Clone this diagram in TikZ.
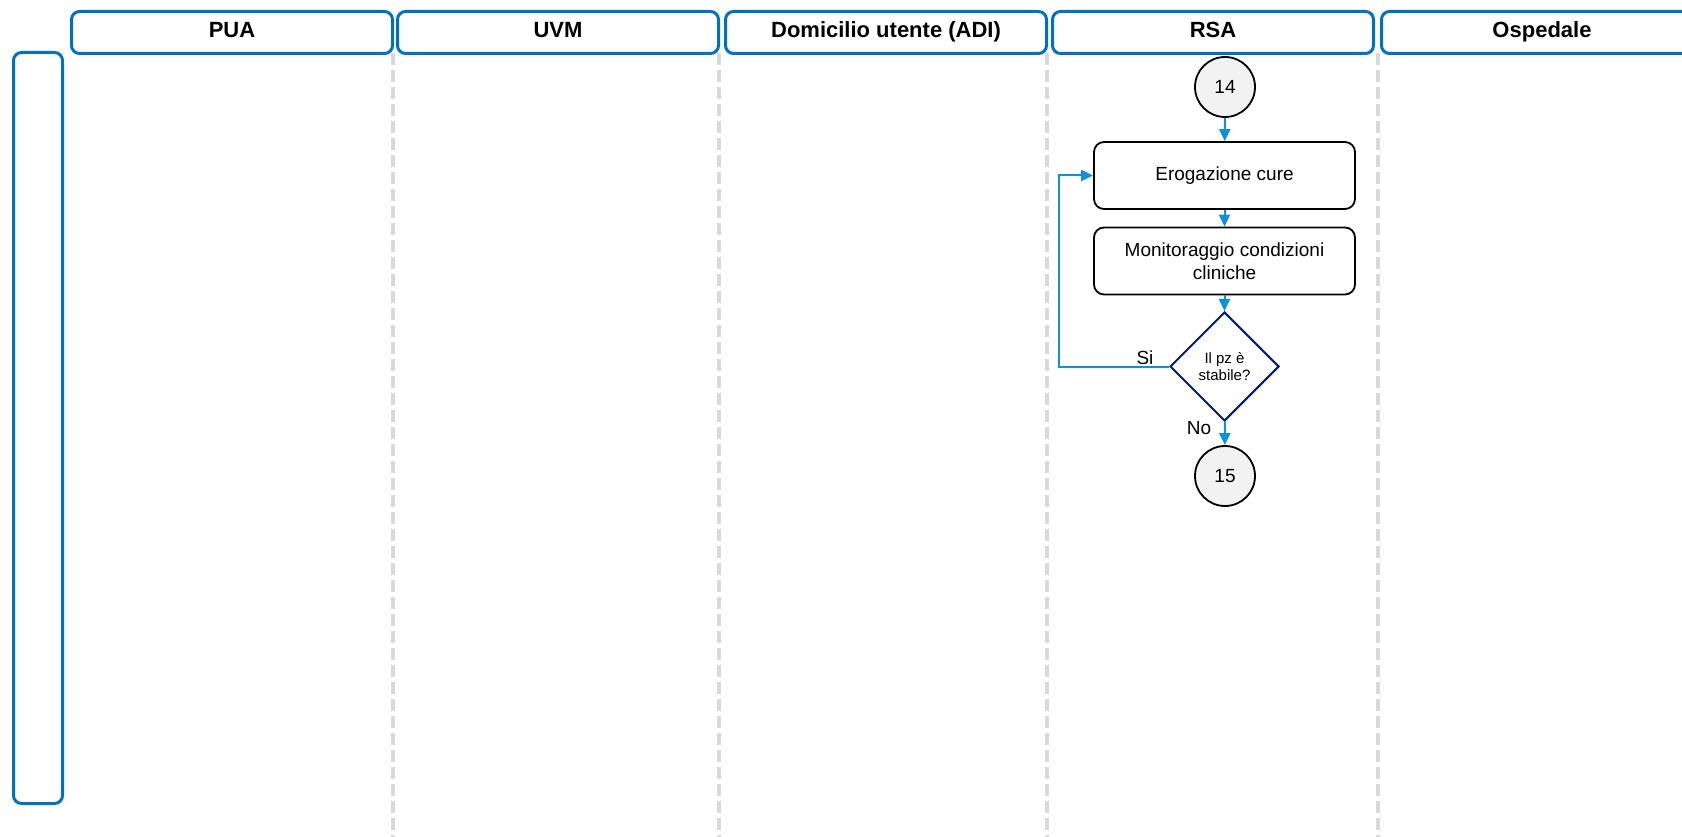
\documentclass[tikz,border=0pt]{standalone}
\usepackage{fontspec}
\setmainfont{Liberation Sans}
\usetikzlibrary{arrows.meta,shapes.geometric}
\definecolor{laneblue}{RGB}{0,112,192}
\definecolor{flowblue}{RGB}{14,144,218}
\definecolor{navy}{RGB}{0,32,96}
\definecolor{sepgray}{RGB}{217,217,217}
\definecolor{bubble}{RGB}{242,242,242}
\begin{document}
\begin{tikzpicture}[x=1pt,y=-1pt,
  lanehead/.style={draw=laneblue, line width=3pt, rounded corners=8pt,
    minimum height=42pt, minimum width=321pt, inner sep=0pt, anchor=north west,
    text height=16pt, text depth=6pt, font=\fontsize{22}{26}\selectfont\bfseries},
  lanesep/.style={draw=sepgray, line width=3.5pt, dash pattern=on 12pt off 5pt},
  procbox/.style={draw=black, line width=1.8pt, rounded corners=10pt,
    minimum width=261pt, minimum height=67pt, inner sep=2pt, align=center,
    font=\fontsize{19}{23}\selectfont},
  joint/.style={circle, draw=black, line width=1.8pt, fill=bubble,
    minimum size=60pt, inner sep=0pt, font=\fontsize{19}{23}\selectfont},
  decision/.style={diamond, draw=navy, line width=2pt, minimum width=109pt,
    minimum height=109pt, inner sep=0pt, align=center,
    font=\fontsize{15}{17}\selectfont},
  flow/.style={draw=flowblue, line width=2pt, -{Triangle[length=12pt,width=11pt]}},
  tag/.style={inner sep=0pt, font=\fontsize{19}{23}\selectfont}
]
\clip (0,0) rectangle (1682,837);

% lane separators
\foreach \xx/\nm in {393/s1,719/s2,1047/s3,1378/s4}{
  \coordinate (\nm top) at (\xx,53);
  \coordinate (\nm bot) at (\xx,837);
  \draw[lanesep] (\nm top) -- (\nm bot);
}

% lane headers
\node[lanehead] (pua) at (70,10) {PUA};
\node[lanehead] (uvm) at (396,10) {UVM};
\node[lanehead] (adi) at (724,10) {Domicilio utente (ADI)};
\node[lanehead] (rsa) at (1051,10) {RSA};
\node[lanehead] (osp) at (1380,10) {Ospedale};

% row header
\node[draw=laneblue, line width=3pt, rounded corners=8pt, minimum width=49pt,
  minimum height=751pt, inner sep=0pt, anchor=north west] (row) at (12,51) {};

% RSA flow
\node[joint] (c14) at (1225,87) {14};
\node[procbox] (ero) at (1224.5,175.5) {Erogazione cure};
\node[procbox] (mon) at (1224.5,261) {Monitoraggio condizioni\\cliniche};
\node[decision] (dec) at (1224.5,366.5) {Il pz è\\stabile?};
\node[joint] (c15) at (1225,476) {15};
\coordinate (loop) at (1059,366.5);

\draw[flow] (c14) -- (ero);
\draw[flow] (ero) -- (mon);
\draw[flow] (mon) -- (dec);
\draw[flow] (dec) -- (c15);
\draw[flow] (dec.west) -- (loop) |- (ero.west);

\node[tag] (si) at (1145,358) {Si};
\node[tag] (no) at (1199,428.5) {No};
\end{tikzpicture}
\end{document}
